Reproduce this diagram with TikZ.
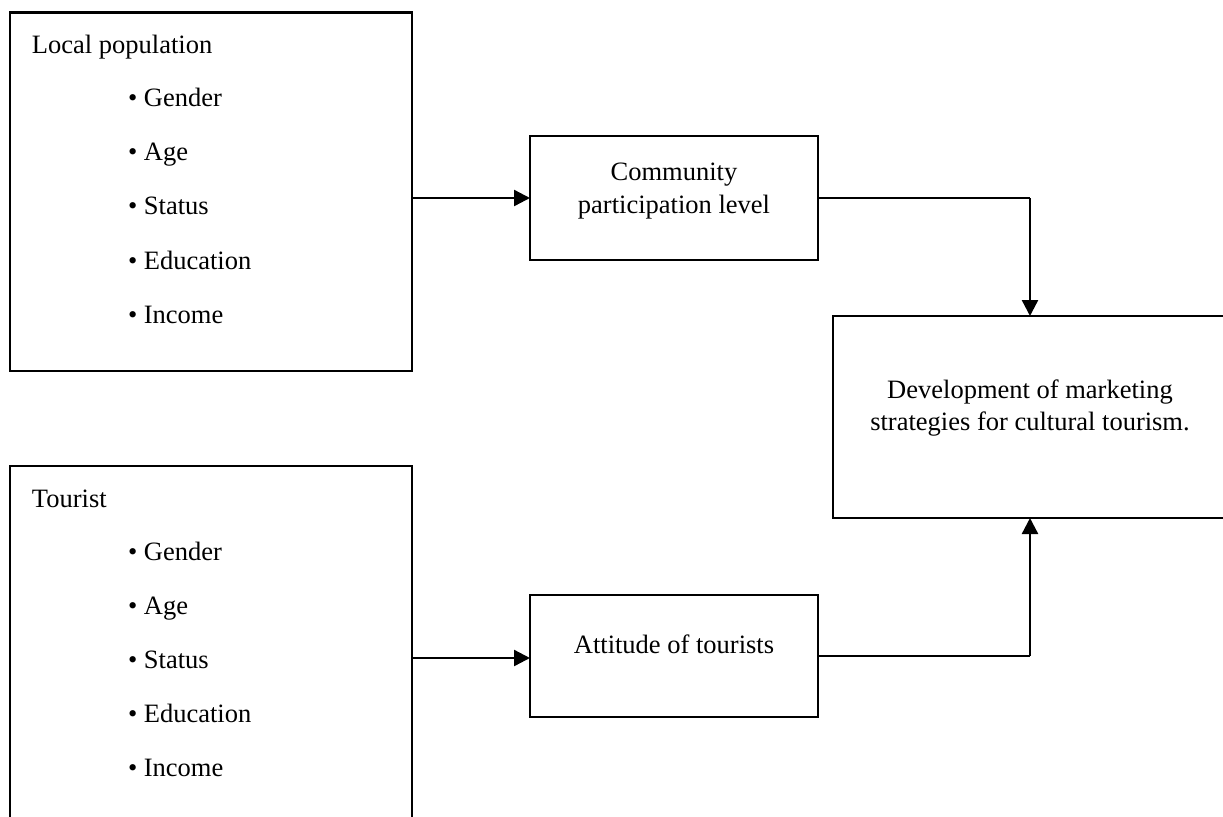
\documentclass[tikz,border=0pt]{standalone}
\usepackage{fontspec}
\setmainfont{Liberation Serif}
\usetikzlibrary{arrows.meta}
\begin{document}
\begin{tikzpicture}[x=0.5pt,y=-0.5pt,
  every node/.style={font=\fontsize{13.25}{16}\selectfont, inner sep=0pt, outer sep=0pt},
  boxshape/.style={draw, line width=1.25pt, rectangle, fill=none},
  txt/.style={anchor=base},
  txtw/.style={anchor=base west},
  thinline/.style={line width=0.6pt},
  arr/.style={line width=1.2pt, -{Triangle[length=8pt,width=8pt]}}
]
\useasboundingbox (0,0) rectangle (1223,816);
\fill[white] (0,0) rectangle (1223,816);

% boxes
\node[boxshape, minimum width=201pt, minimum height=179.25pt] (local) at (211,191.75) {};
\node[boxshape, minimum width=201pt, minimum height=182pt] (tour) at (211,648) {};
\node[boxshape, minimum width=144pt, minimum height=62pt] (comm) at (674,198) {};
\node[boxshape, minimum width=144pt, minimum height=61pt] (att) at (674,656) {};
\node[boxshape, minimum width=197pt, minimum height=101pt] (dev) at (1030,417) {};

% texts in local population box
\node[txtw] (lp) at (32,53) {Local population};
\node[txtw] (lp1) at (128,106.5) {\textbullet\ Gender};
\node[txtw] (lp2) at (128,160.7) {\textbullet\ Age};
\node[txtw] (lp3) at (128,214.9) {\textbullet\ Status};
\node[txtw] (lp4) at (128,269.1) {\textbullet\ Education};
\node[txtw] (lp5) at (128,323.3) {\textbullet\ Income};

% texts in tourist box
\node[txtw] (tt) at (32,507) {Tourist};
\node[txtw] (tt1) at (128,560) {\textbullet\ Gender};
\node[txtw] (tt2) at (128,614.2) {\textbullet\ Age};
\node[txtw] (tt3) at (128,668.4) {\textbullet\ Status};
\node[txtw] (tt4) at (128,722.6) {\textbullet\ Education};
\node[txtw] (tt5) at (128,776.8) {\textbullet\ Income};

% middle texts
\node[txt] (ct1) at (674,180) {Community};
\node[txt] (ct2) at (674,213) {participation level};
\node[txt] (at1) at (674,653) {Attitude of tourists};

% development text
\node[txt] (dt1) at (1030,398) {Development of marketing};
\node[txt] (dt2) at (1030,430) {strategies for cultural tourism.};

% connectors
\draw[arr] (local.east |- comm.west) -- (comm.west);
\draw[arr] (tour.east |- 0,658) -- (att.west |- 0,658);

\coordinate (c1) at (1030,198);
\coordinate (c2) at (1030,656);
\draw[thinline] (comm.east) -- (c1);
\draw[arr] (c1) -- (dev.north);
\draw[thinline] (att.east) -- (c2);
\draw[arr] (c2) -- (dev.south);
\end{tikzpicture}
\end{document}
